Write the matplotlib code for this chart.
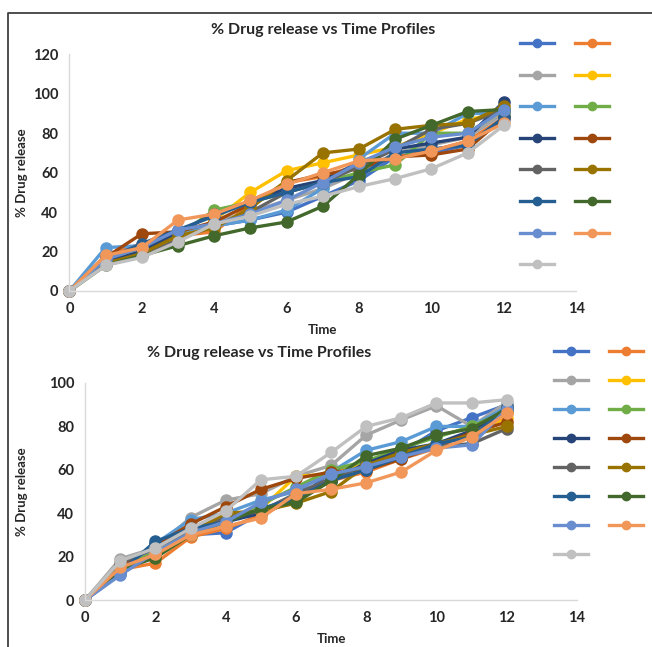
import numpy as np
import matplotlib.pyplot as plt
from matplotlib.lines import Line2D

plt.rcParams['font.family'] = ['Lato', 'DejaVu Sans']
plt.rcParams['font.weight'] = 'bold'

time = list(range(13))

colors = ['#4472C4', '#ED7D31', '#A5A5A5', '#FFC000', '#5B9BD5', '#70AD47', '#264478',
          '#9E480E', '#636363', '#997300', '#255E91', '#43682B', '#698ED0', '#F1975A', '#C0C0C0']

# top chart: 15 formulations
top_release = [
    [0, 17, 22, 30, 33, 36, 40, 48, 56, 68, 70, 74, 87],
    [0, 18, 24, 28, 30, 44, 55, 58, 64, 68, 71, 76, 88],
    [0, 14, 19, 27, 35, 40, 46, 52, 60, 70, 74, 78, 90],
    [0, 16, 20, 26, 36, 50, 61, 65, 69, 73, 80, 87, 90],
    [0, 22, 23, 30, 33, 36, 41, 52, 67, 80, 80, 90, 90],
    [0, 15, 21, 28, 41, 45, 50, 55, 60, 64, 80, 80, 92],
    [0, 15, 20, 30, 39, 45, 52, 56, 65, 72, 75, 78, 96],
    [0, 17, 29, 30, 35, 44, 55, 59, 62, 68, 69, 72, 88],
    [0, 14, 18, 26, 33, 40, 50, 55, 63, 72, 82, 85, 92],
    [0, 14, 19, 28, 32, 42, 56, 70, 72, 82, 84, 85, 94],
    [0, 16, 24, 31, 38, 45, 50, 55, 58, 70, 72, 74, 88],
    [0, 13, 18, 23, 28, 32, 35, 43, 59, 77, 84, 91, 92],
    [0, 16, 22, 31, 34, 39, 46, 55, 65, 73, 78, 80, 92],
    [0, 18, 22, 36, 39, 46, 54, 60, 66, 67, 71, 76, 85],
    [0, 13, 17, 25, 34, 38, 44, 48, 53, 57, 62, 70, 84],
]

# bottom chart: 15 formulations
bottom_release = [
    [0, 12, 25, 30, 31, 40, 46, 59, 62, 68, 78, 84, 90],
    [0, 14, 17, 29, 33, 39, 47, 55, 59, 65, 70, 78, 86],
    [0, 19, 24, 38, 46, 49, 57, 62, 76, 83, 89.5, 80, 91],
    [0, 15, 22, 31, 37, 42, 57, 58, 63, 67, 72, 77, 84],
    [0, 13, 26, 37, 40, 46, 50, 59, 69, 73, 80, 80, 89],
    [0, 15, 22, 30, 37, 44, 52, 60, 64, 70, 75, 80, 87],
    [0, 14, 26, 34, 36, 40, 46, 55, 63, 69, 72, 78, 88],
    [0, 16, 25, 35, 43, 51, 56, 59, 60, 65, 71, 77, 82],
    [0, 17, 24, 32, 38, 41, 49, 56, 62, 67, 71, 72, 79],
    [0, 15, 21, 31, 40, 41, 44.6, 50, 62, 68, 72, 76, 80],
    [0, 13, 27, 33, 36, 42, 47, 55, 60, 66, 72, 75, 89],
    [0, 14, 19.5, 30, 36, 42, 45, 55, 66.5, 70, 76, 79, 88],
    [0, 11.5, 22, 31, 36, 45, 51, 58, 61.5, 66, 70, 71.5, 88],
    [0, 15, 21, 30, 34, 37.7, 49, 51, 54, 59, 69, 75, 86],
    [0, 18, 24, 33, 41, 55.4, 57, 68, 80, 84, 90.8, 90.8, 92.3],
]

W, H = 652, 647
fig = plt.figure(figsize=(W / 100, H / 100), dpi=100)

def px_axes(x0, x1, y0, y1):
    # y0 = pixel row of value max, y1 = pixel row of zero
    return fig.add_axes([x0 / W, 1 - y1 / H, (x1 - x0) / W, (y1 - y0) / H])

def style(ax, ymax, step):
    ax.set_xlim(0, 14)
    ax.set_ylim(0, ymax)
    ax.set_xticks(range(0, 15, 2))
    ax.set_yticks(range(0, ymax + 1, step))
    for s in ['top', 'right']:
        ax.spines[s].set_visible(False)
    for s in ['left', 'bottom']:
        ax.spines[s].set_color('#D9D9D9')
        ax.spines[s].set_linewidth(1)
    ax.tick_params(length=0, labelsize=10.5, colors='#262626', pad=8)
    for lbl in ax.get_xticklabels() + ax.get_yticklabels():
        lbl.set_fontweight('bold')

def draw(ax, data):
    handles = []
    for vals, c in zip(data, colors):
        h, = ax.plot(time, vals, color=c, lw=2.4, marker='o', ms=8, clip_on=False)
        handles.append(h)
    return handles

ax1 = px_axes(69.4, 576.3, 54.3, 291)
style(ax1, 120, 20)
h1 = draw(ax1, top_release)

ax2 = px_axes(85.2, 577, 383, 600)
style(ax2, 100, 20)
h2 = draw(ax2, bottom_release)

def add_legend(handles, x, y, spacing):
    order = handles[0::2] + handles[1::2]
    fig.legend(order, [''] * len(order), ncol=2, loc='upper left',
               bbox_to_anchor=(x / W, 1 - y / H), frameon=False, fontsize=10,
               handlelength=2.45, handletextpad=0, columnspacing=1.5,
               labelspacing=spacing, borderpad=0, borderaxespad=0, markerscale=0.75)

add_legend(h1, 520, 38, 1.41)
add_legend(h2, 553.7, 346, 1.22)

tkw = dict(ha='center', va='center', fontweight='bold', color='#262626')
fig.text(323 / W, 1 - 30 / H, '% Drug release vs Time Profiles', fontsize=11.5, **tkw)
fig.text(259 / W, 1 - 353 / H, '% Drug release vs Time Profiles', fontsize=11.5, **tkw)
fig.text(322 / W, 1 - 330 / H, 'Time', fontsize=9.5, **tkw)
fig.text(331 / W, 1 - 639 / H, 'Time', fontsize=9.5, **tkw)
fig.text(22 / W, 1 - 173 / H, '% Drug release', fontsize=9.5, rotation=90, **tkw)
fig.text(22 / W, 1 - 492 / H, '% Drug release', fontsize=9.5, rotation=90, **tkw)

# outer frame (top and left edge)
fig.add_artist(Line2D([8 / W, 8 / W, 1], [0, 1 - 13 / H, 1 - 13 / H],
                      transform=fig.transFigure, color='#404040', lw=1.3))

fig.savefig('out.png', dpi=100)
